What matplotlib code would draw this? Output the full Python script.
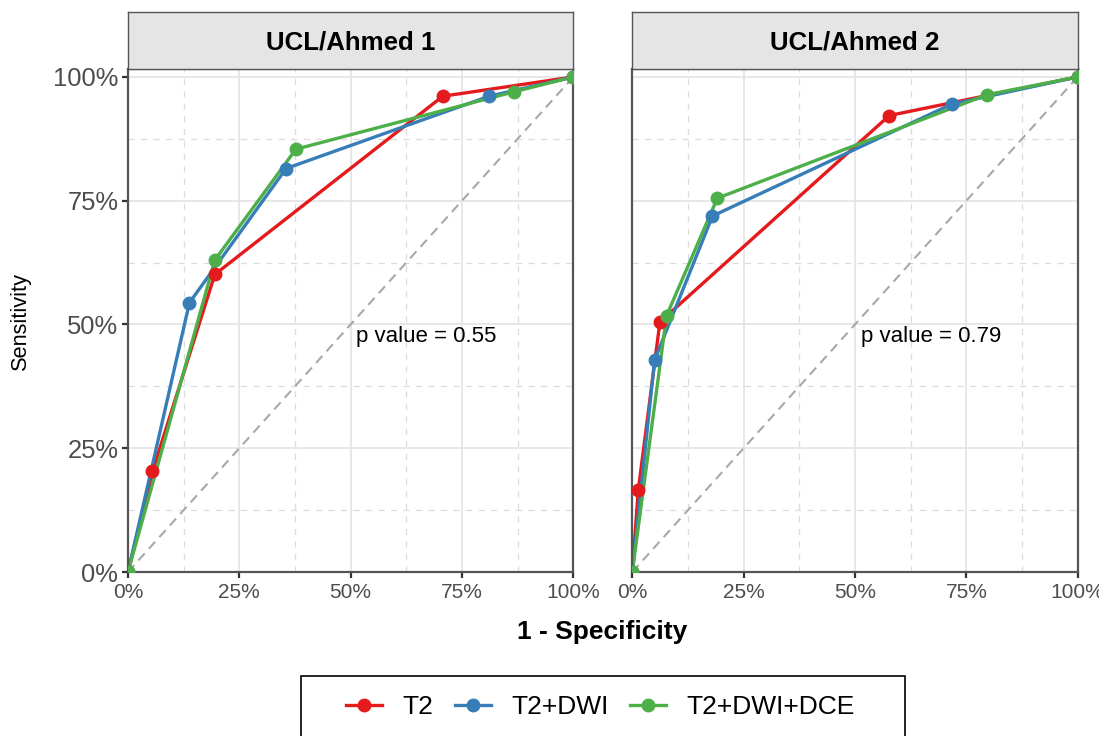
import matplotlib
matplotlib.use("Agg")
import matplotlib.pyplot as plt
from matplotlib.patches import Rectangle
from matplotlib.ticker import PercentFormatter, MultipleLocator

plt.rcParams["font.family"] = ["Liberation Sans", "DejaVu Sans"]

# ROC points (1 - specificity, sensitivity) per reader and protocol
panels = ["UCL/Ahmed 1", "UCL/Ahmed 2"]
p_values = ["0.55", "0.79"]
series = ["T2", "T2+DWI", "T2+DWI+DCE"]
colors = ["#E41A1C", "#377EB8", "#4DAF4A"]

fpr_1 = {
    "T2":         [0.0, 0.055, 0.195, 0.707, 1.0],
    "T2+DWI":     [0.0, 0.138, 0.355, 0.811, 1.0],
    "T2+DWI+DCE": [0.0, 0.195, 0.377, 0.867, 1.0],
}
tpr_1 = {
    "T2":         [0.0, 0.203, 0.601, 0.961, 1.0],
    "T2+DWI":     [0.0, 0.544, 0.815, 0.961, 1.0],
    "T2+DWI+DCE": [0.0, 0.630, 0.854, 0.970, 1.0],
}
fpr_2 = {
    "T2":         [0.0, 0.0135, 0.062, 0.577, 1.0],
    "T2+DWI":     [0.0, 0.050, 0.180, 0.717, 1.0],
    "T2+DWI+DCE": [0.0, 0.077, 0.191, 0.796, 1.0],
}
tpr_2 = {
    "T2":         [0.0, 0.166, 0.505, 0.922, 1.0],
    "T2+DWI":     [0.0, 0.428, 0.719, 0.945, 1.0],
    "T2+DWI+DCE": [0.0, 0.518, 0.755, 0.964, 1.0],
}
fpr_all = [fpr_1, fpr_2]
tpr_all = [tpr_1, tpr_2]

W, H = 1099, 736
fig = plt.figure(figsize=(W / 100, H / 100), dpi=100)


def box(left, top, right, bottom):
    # pixel box -> figure fraction rect
    return [left / W, 1 - bottom / H, (right - left) / W, (bottom - top) / H]


border_col = "#555555"
panel_x = [(128, 573.3), (632.3, 1077.7)]
for i, (l, r) in enumerate(panel_x):
    ax = fig.add_axes(box(l, 69, r, 572))
    ax.set_xlim(0, 1)
    ax.set_ylim(0, 1.016)
    ax.xaxis.set_major_locator(MultipleLocator(0.25))
    ax.yaxis.set_major_locator(MultipleLocator(0.25))
    ax.xaxis.set_minor_locator(MultipleLocator(0.125))
    ax.yaxis.set_minor_locator(MultipleLocator(0.125))
    ax.xaxis.set_major_formatter(PercentFormatter(1.0, decimals=0))
    ax.yaxis.set_major_formatter(PercentFormatter(1.0, decimals=0))
    ax.grid(which="major", color="#E3E3E3", linewidth=1.2, zorder=0)
    ax.grid(which="minor", color="#DCDCDC", linewidth=0.9,
            linestyle=(0, (5, 5)), zorder=0)
    ax.set_axisbelow(True)
    for s in ax.spines.values():
        s.set_color(border_col)
        s.set_linewidth(1.6)
    ax.tick_params(which="minor", length=0)
    ax.tick_params(which="major", length=4, width=1.6, color="#333333",
                   labelcolor="#4D4D4D")
    ax.tick_params(axis="x", labelsize=15, pad=4)
    ax.tick_params(axis="y", labelsize=18.4, pad=3)
    if i == 1:
        ax.tick_params(axis="y", left=False, labelleft=False)

    # chance diagonal
    ax.plot([0, 1], [0, 1], color="#A8A8A8", linewidth=1.5,
            linestyle=(0, (4.5, 3)), zorder=1)

    fpr, tpr = fpr_all[i], tpr_all[i]
    for name, c in zip(series, colors):
        ax.plot(fpr[name], tpr[name], color=c, linewidth=2.4, zorder=2)
    for name, c in zip(series, colors):
        ax.plot(fpr[name], tpr[name], linestyle="none", marker="o",
                markersize=9, color=c, zorder=3)

    ax.text(0.67, 0.476, "p value = " + p_values[i], fontsize=16,
            ha="center", va="center", color="black", zorder=4)

    # facet strip
    sx = fig.add_axes(box(l, 12, r, 69))
    sx.set_facecolor("#E5E5E5")
    sx.set_xticks([])
    sx.set_yticks([])
    for s in sx.spines.values():
        s.set_color(border_col)
        s.set_linewidth(1.0)
    sx.text(0.5, 0.46, panels[i], transform=sx.transAxes, ha="center",
            va="center", fontsize=18.6, fontweight="bold", color="black")

fig.text(602.5 / W, 1 - 632 / H, "1 - Specificity", ha="center", va="center",
         fontsize=19, fontweight="bold")
fig.text(20 / W, 1 - 321 / H, "Sensitivity", ha="center", va="center",
         rotation=90, fontsize=15.7)

# legend: items without frame, box drawn separately
handles = [plt.Line2D([], [], color=c, linewidth=2.4, marker="o", markersize=9)
           for c in colors]
leg = fig.legend(handles, series, loc="center", ncol=3,
                 bbox_to_anchor=(600.5 / W, 1 - 707 / H), fontsize=19,
                 frameon=False, handlelength=1.36, handletextpad=0.76,
                 columnspacing=0.83, borderpad=0, borderaxespad=0)
fig.patches.append(Rectangle((301 / W, -0.05), (905 - 301) / W,
                             (736 - 676) / H + 0.05, transform=fig.transFigure,
                             fill=False, edgecolor="black", linewidth=1.2))

fig.savefig("out.png", dpi=100)
